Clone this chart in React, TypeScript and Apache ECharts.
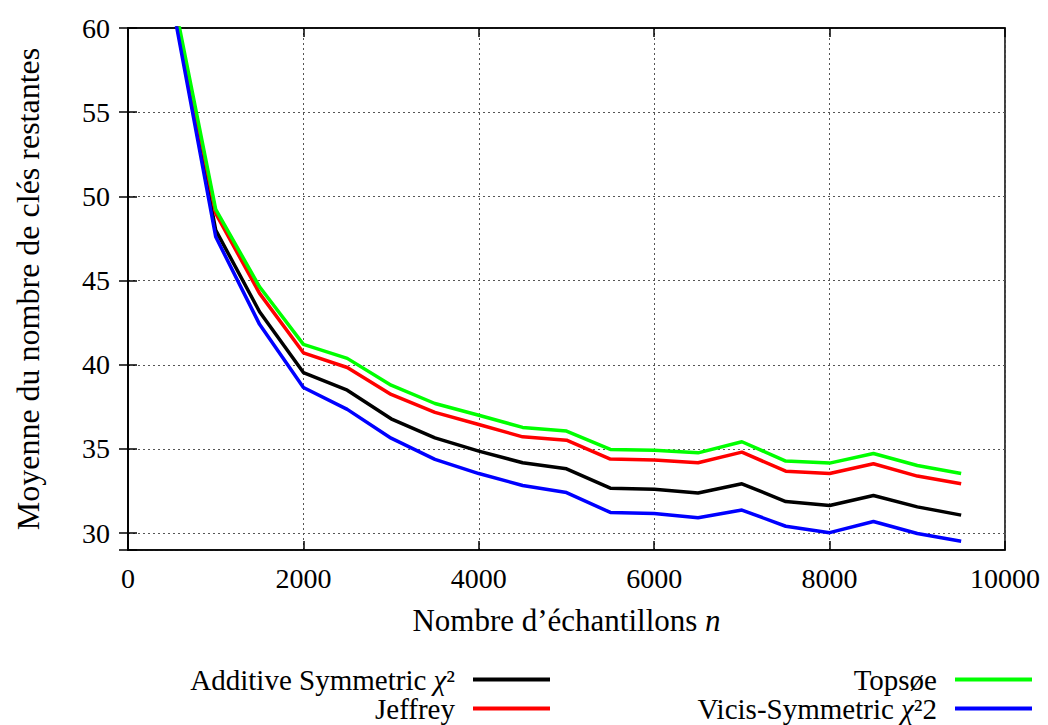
import React, { useEffect, useRef } from "react";
import * as echarts from "echarts";

const samples = [500, 1000, 1500, 2000, 2500, 3000, 3500, 4000, 4500, 5000, 5500, 6000, 6500, 7000, 7500, 8000, 8500, 9000, 9500];
const additive = [61.8, 48.0, 43.15, 39.54, 38.49, 36.79, 35.66, 34.87, 34.18, 33.82, 32.67, 32.61, 32.39, 32.93, 31.88, 31.64, 32.24, 31.56, 31.07];
const jeffrey = [62.0, 48.99, 44.24, 40.71, 39.84, 38.24, 37.17, 36.45, 35.72, 35.52, 34.4, 34.34, 34.18, 34.81, 33.68, 33.54, 34.12, 33.39, 32.93];
const topsoe = [62.3, 49.23, 44.63, 41.21, 40.38, 38.79, 37.7, 37.0, 36.28, 36.06, 34.97, 34.93, 34.77, 35.43, 34.28, 34.16, 34.73, 34.02, 33.54];
const vicis = [61.6, 47.6, 42.4, 38.65, 37.35, 35.64, 34.38, 33.54, 32.83, 32.41, 31.23, 31.17, 30.91, 31.37, 30.41, 30.03, 30.69, 29.98, 29.52];

const seriesNames = ["Additive Symmetric χ²", "Jeffrey", "Topsøe", "Vicis-Symmetric χ²2"];
const seriesColors = ["#000000", "#ff0000", "#00ff00", "#0000ff"];
const seriesValues = [additive, jeffrey, topsoe, vicis];
const legendLabels = ["Additive Symmetric {i|χ}²", "Jeffrey", "Topsøe", "Vicis-Symmetric {i|χ}²2"];

const xTitle = "Nombre d’échantillons {i|n}";
const yTitle = "Moyenne du nombre de clés restantes";

const FONT = "'Liberation Serif', 'DejaVu Serif', serif";
const FS = 28;
const LFS = 29;

export default function App() {
  const ref = useRef<HTMLDivElement>(null);
  useEffect(() => {
    document.body.style.margin = "0";
    const chart = echarts.init(ref.current!, null, { renderer: "svg" });
    const richLegend = {
      i: { fontFamily: FONT, fontSize: LFS, lineHeight: 27, fontStyle: "italic", color: "#000" },
    };
    const richTitle = {
      i: { fontFamily: FONT, fontSize: 31, fontStyle: "italic", color: "#000" },
    };
    const legendPos = [
      { right: 498, top: 665 },
      { right: 498, top: 694 },
      { right: 16, top: 665 },
      { right: 16, top: 694 },
    ];
    const mirrorY = {
      type: "value",
      min: 29,
      max: 60,
      minInterval: 5,
      maxInterval: 5,
      splitNumber: 6,
    };
    chart.setOption({
      animation: false,
      textStyle: { fontFamily: FONT, color: "#000" },
      grid: {
        left: 128,
        top: 28,
        width: 877,
        height: 522,
        show: true,
        borderColor: "#000",
        borderWidth: 1.5,
        backgroundColor: "transparent",
      },
      legend: seriesNames.map((name, k) => ({
        data: [name],
        right: legendPos[k].right,
        top: legendPos[k].top,
        padding: 0,
        align: "right",
        icon: "rect",
        itemWidth: 77,
        itemHeight: 4,
        selectedMode: false,
        formatter: () => legendLabels[k],
        textStyle: {
          fontFamily: FONT,
          fontSize: LFS,
          lineHeight: 27,
          color: "#000",
          padding: [0, 13, 0, 0],
          rich: richLegend,
        },
      })),
      xAxis: [
        {
          type: "value",
          min: 0,
          max: 10000,
          interval: 2000,
          name: xTitle,
          nameLocation: "middle",
          nameGap: 55,
          nameTextStyle: { fontFamily: FONT, fontSize: 31, color: "#000", rich: richTitle },
          axisLine: { show: true, lineStyle: { color: "#000", width: 1.5 } },
          axisTick: { show: true, inside: true, length: 9, lineStyle: { color: "#000", width: 1.5 } },
          axisLabel: { fontFamily: FONT, fontSize: FS, color: "#000", margin: 14, formatter: (v: number) => String(v) },
          splitLine: { show: true, lineStyle: { color: "#555", width: 1, type: [2, 3] } },
        },
        {
          type: "value",
          position: "top",
          min: 0,
          max: 10000,
          interval: 2000,
          axisLine: { show: true, lineStyle: { color: "#000", width: 1.5 } },
          axisTick: { show: true, inside: true, length: 9, lineStyle: { color: "#000", width: 1.5 } },
          axisLabel: { show: false },
          splitLine: { show: false },
        },
      ],
      yAxis: [
        {
          ...mirrorY,
          name: yTitle,
          nameLocation: "middle",
          nameGap: 84,
          nameRotate: 90,
          nameTextStyle: { fontFamily: FONT, fontSize: 32, color: "#000" },
          axisLine: { show: true, lineStyle: { color: "#000", width: 1.5 } },
          axisTick: { show: true, inside: true, length: 9, lineStyle: { color: "#000", width: 1.5 } },
          axisLabel: {
            fontFamily: FONT,
            fontSize: FS,
            color: "#000",
            margin: 18,
            formatter: (v: number) => (v % 5 === 0 ? String(v) : ""),
          },
          splitLine: { show: true, lineStyle: { color: "#555", width: 1, type: [2, 3] } },
        },
        {
          ...mirrorY,
          position: "right",
          axisLine: { show: true, lineStyle: { color: "#000", width: 1.5 } },
          axisTick: { show: true, inside: true, length: 9, lineStyle: { color: "#000", width: 1.5 } },
          axisLabel: { show: false },
          splitLine: { show: false },
        },
      ],
      series: seriesNames.map((name, k) => ({
        name,
        type: "line",
        xAxisIndex: 0,
        yAxisIndex: 0,
        symbol: "none",
        clip: true,
        color: seriesColors[k],
        lineStyle: { color: seriesColors[k], width: 3.5 },
        data: samples.map((n, j) => [n, seriesValues[k][j]]),
      })),
    });
    return () => chart.dispose();
  }, []);
  return <div ref={ref} style={{ width: 1048, height: 725 }} />;
}
